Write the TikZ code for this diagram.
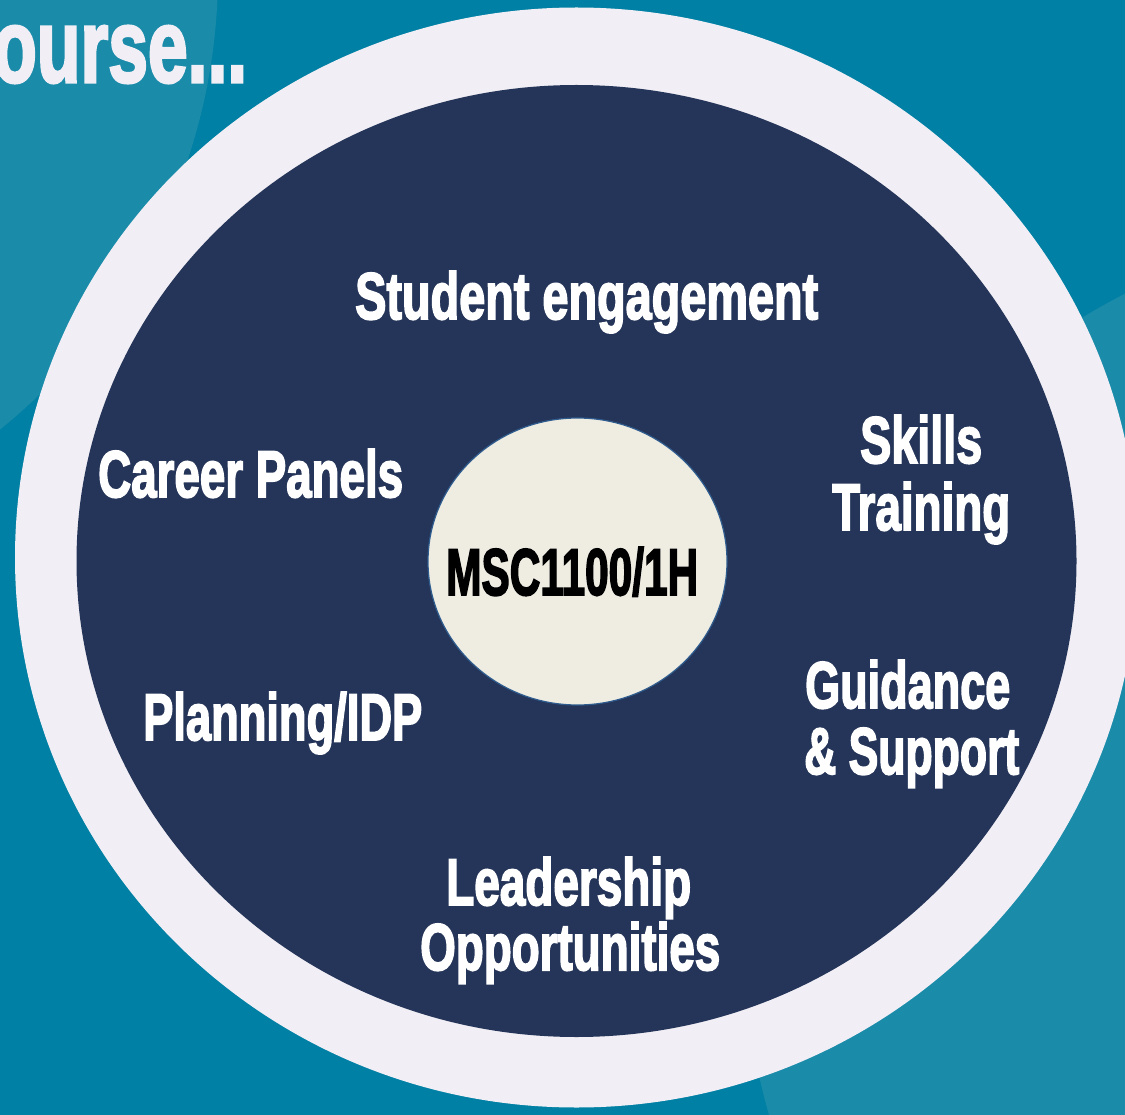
\documentclass[tikz,border=0pt]{standalone}
\usepackage{fontspec}
\usepackage{graphicx}
\usetikzlibrary{shapes.geometric}
\newfontfamily\heavy{Liberation Sans Bold}[FakeBold=3]
\definecolor{bgteal}{HTML}{0080A4}
\definecolor{lightteal}{HTML}{1A8BA9}
\definecolor{ringc}{HTML}{F1EFF5}
\definecolor{navy}{HTML}{253559}
\definecolor{hubfill}{HTML}{EFECE2}
\definecolor{hubline}{HTML}{2E5C8E}
\newcommand\fitw[3]{{\heavy\fontsize{#1}{#1}\selectfont\resizebox{#2pt}{\height}{#3}}}
\begin{document}
\begin{tikzpicture}[x=1pt,y=-1pt,
  lbl/.style={anchor=base west,inner sep=0pt,text=white},
  hubstyle/.style={ellipse,fill=hubfill,draw=hubline,line width=1.2pt,
    minimum width=299pt,minimum height=287pt,inner sep=0pt}]
\useasboundingbox (0,0) rectangle (1125,1115);
\clip (0,0) rectangle (1125,1115);
\fill[bgteal] (0,0) rectangle (1125,1115);
\fill[lightteal] (-369,-27) circle[radius=587pt];
\fill[lightteal] (1447,921) circle[radius=705pt];
\fill[ringc] (576.5,557.5) ellipse[x radius=561.5pt,y radius=550pt];
\fill[navy] (576.5,561) ellipse[x radius=500pt,y radius=476pt];
\node[hubstyle] (hub) at (577.5,561.5) {};
\node[lbl,text=black] (hubtext) at (446,595) {\fitw{66}{252}{MSC1100/1H}};
\node[lbl,text=ringc] (title) at (-7,82) {\fitw{104}{254}{ourse...}};
\node[lbl] (engage) at (355,319) {\fitw{66}{463}{Student engagement}};
\node[lbl] (career) at (98,497) {\fitw{66}{305}{Career Panels}};
\node[lbl] (skillsA) at (860,463) {\fitw{66}{122}{Skills}};
\node[lbl] (skillsB) at (832,530) {\fitw{66}{178}{Training}};
\node[lbl] (guideA) at (805,708) {\fitw{66}{205}{Guidance}};
\node[lbl] (guideB) at (804,774) {\fitw{66}{215}{\& Support}};
\node[lbl] (plan) at (143,740) {\fitw{66}{279}{Planning/IDP}};
\node[lbl] (leadA) at (446,905) {\fitw{66}{245}{Leadership}};
\node[lbl] (leadB) at (420,970) {\fitw{66}{300}{Opportunities}};
\end{tikzpicture}
\end{document}
